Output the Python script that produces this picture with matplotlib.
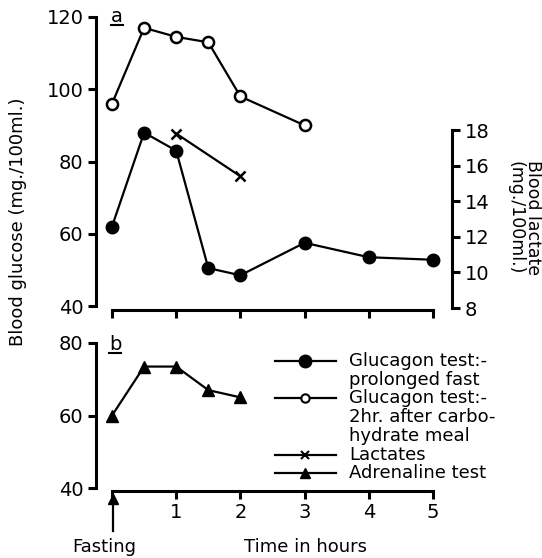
import matplotlib
matplotlib.use("Agg")
from matplotlib import pyplot as plt
from matplotlib.lines import Line2D

# panel a: glucagon tests and lactates
hours_fast = [0, 0.5, 1, 1.5, 2, 3, 4, 5]
glucose_fast = [62, 88, 83, 50.5, 48.5, 57.5, 53.5, 52.8]
hours_meal = [0, 0.5, 1, 1.5, 2, 3]
glucose_meal = [96, 117, 114.5, 113, 98, 90]
hours_lact = [1, 2]
lactate = [17.8, 15.4]

# panel b: adrenaline test
hours_adr = [0, 0.5, 1, 1.5, 2]
glucose_adr = [60, 73.5, 73.5, 67, 65]

legend_labels = ["Glucagon test:-\nprolonged fast",
                 "Glucagon test:-\n2hr. after carbo-\nhydrate meal",
                 "Lactates",
                 "Adrenaline test"]

W, H = 542, 558
plt.rcParams['font.family'] = ["DejaVu Sans"]
plt.rcParams['font.size'] = 13

fig = plt.figure(figsize=(W / 100, H / 100), dpi=100)


def px_axes(l, t, r, b):
    return fig.add_axes([l / W, 1 - b / H, (r - l) / W, (b - t) / H])


def x_limits(l, r):
    # x=0 sits at px 112, 64.2 px per hour
    return ((l - 112) / 64.2, (r - 112) / 64.2)


def fpos(x, y):
    # pixel position (from top-left) to figure fraction
    return x / W, 1 - y / H


def style_axis(ax):
    for s in ['top', 'right']:
        ax.spines[s].set_visible(False)
    for s in ['left', 'bottom']:
        ax.spines[s].set_linewidth(2.2)
    ax.tick_params(direction='out', length=6, width=2.2, labelsize=14, pad=3)
    ax.set_xticks([0, 1, 2, 3, 4, 5])
    ax.spines['bottom'].set_bounds(0, 5)


line_kw = dict(color='black', linewidth=1.6)

# top panel
ax = px_axes(96, 17, 452, 310)
ax.set_xlim(*x_limits(96, 452))
ax.set_ylim(40 - 4 / 3.6125, 120)
style_axis(ax)
ax.spines['left'].set_bounds(40, 120)
ax.set_yticks([40, 60, 80, 100, 120])
ax.set_xticklabels([])
ax.plot(hours_fast, glucose_fast, marker='o', markersize=9, **line_kw)
ax.plot(hours_meal, glucose_meal, marker='o', markersize=8, markerfacecolor='white',
        markeredgewidth=1.8, **line_kw)

ax2 = ax.twinx()
ax2.set_ylim(8 - 2 / 17.8, 18 + 113 / 17.8)
for s in ['top', 'left', 'bottom']:
    ax2.spines[s].set_visible(False)
ax2.spines['right'].set_linewidth(2.2)
ax2.spines['right'].set_bounds(8, 18)
ax2.set_yticks([8, 10, 12, 14, 16, 18])
ax2.tick_params(direction='out', length=6, width=2.2, labelsize=14, pad=3)
ax2.plot(hours_lact, lactate, marker='x', markersize=7, markeredgewidth=1.8, **line_kw)

fig.text(*fpos(117, 22), "a", fontsize=14, ha='center', va='baseline')
fig.add_artist(Line2D([111 / W, 123 / W], [1 - 25 / H] * 2, color='black', linewidth=1.5))

# bottom panel
axb = px_axes(96, 343, 452, 491)
axb.set_xlim(*x_limits(96, 452))
axb.set_ylim(40 - 3 / 3.625, 80)
style_axis(axb)
axb.spines['left'].set_bounds(40, 80)
axb.set_yticks([40, 60, 80])
axb.set_xticklabels(['', '1', '2', '3', '4', '5'])
axb.plot(hours_adr, glucose_adr, marker='^', markersize=9, **line_kw)

fig.text(*fpos(115, 350), "b", fontsize=14, ha='center', va='baseline')
fig.add_artist(Line2D([109 / W, 121 / W], [1 - 353 / H] * 2, color='black', linewidth=1.5))

# legend drawn by hand so the handle sits on the first line of each label
handles = [dict(marker='o', markersize=9, markerfacecolor='black'),
           dict(marker='o', markersize=6, markerfacecolor='white', markeredgewidth=1.5),
           dict(marker='x', markersize=6, markeredgewidth=1.5),
           dict(marker='^', markersize=6.5, markerfacecolor='black')]
row = 361
step = 18.7
for lab, hk in zip(legend_labels, handles):
    fig.add_artist(Line2D([275 / W, 336 / W], [1 - row / H] * 2,
                          color='black', linewidth=1.6))
    fig.add_artist(Line2D([305 / W], [1 - row / H], color='black', linestyle='none', **hk))
    parts = lab.split("\n")
    for i, part in enumerate(parts):
        fig.text(*fpos(349, row + i * step), part, fontsize=13, ha='left', va='center')
    row += step * len(parts)

# axis labels
fig.text(*fpos(18, 222), "Blood glucose (mg./100ml.)", rotation=90,
         ha='center', va='center', fontsize=13)
fig.text(*fpos(524, 218), "Blood lactate\n(mg./100ml.)", rotation=-90,
         ha='center', va='center', fontsize=12.5, linespacing=1.0)

fig.add_artist(Line2D([113 / W] * 2, [1 - 500 / H, 1 - 531 / H], color='black', linewidth=1.6))
fig.add_artist(Line2D([113 / W], [1 - 499 / H], marker='^', markersize=7,
                      color='black', linestyle='none'))
fig.text(*fpos(104, 547), "Fasting", ha='center', va='center', fontsize=13)
fig.text(*fpos(306, 547), "Time in hours", ha='center', va='center', fontsize=13)

fig.savefig("out.png", dpi=100)
